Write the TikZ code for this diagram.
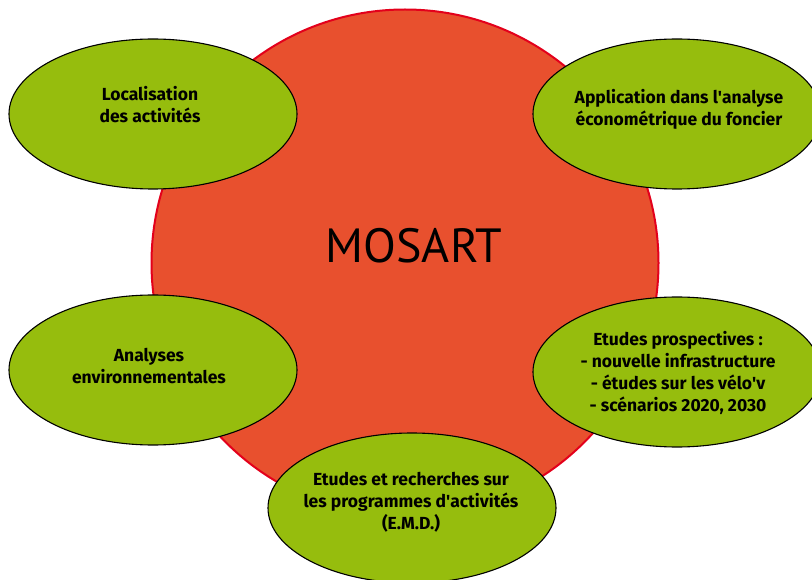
\documentclass[tikz,border=0pt]{standalone}
\usepackage{fontspec}
\setmainfont{Fira Sans}
\newfontfamily\titlefont{PT Sans}
\usetikzlibrary{shapes.geometric}
\definecolor{redfill}{HTML}{E8502E}
\definecolor{redline}{HTML}{E3001B}
\definecolor{greenfill}{HTML}{96BD0D}
\newcommand{\apos}{\textquotesingle}
\tikzset{
  bubble/.style={ellipse, draw=black, line width=1.1pt, fill=greenfill,
    minimum width=288pt, minimum height=150pt, inner sep=0pt},
  bubbletext/.style={align=center, font=\fontsize{17.5}{22}\selectfont\bfseries, inner sep=0pt},
}
\begin{document}
\begin{tikzpicture}[x=1pt,y=-1pt]
\useasboundingbox (0,0) rectangle (812,580);
\node[circle, draw=redline, line width=2pt, fill=redfill, minimum size=507pt, inner sep=0pt] (core) at (405,263) {};
\node[font=\titlefont\fontsize{48}{52}\selectfont, inner sep=0pt] (title) at (414,246) {MOSART};
\node[bubble] (e1) at (153,114) {};
\node[bubble] (e2) at (677,114) {};
\node[bubble] (e3) at (153,370) {};
\node[bubble] (e4) at (677,372) {};
\node[bubble] (e5) at (412,508) {};
\node[bubbletext] (t1) at (150,105) {Localisation\\des activités};
\node[bubbletext] (t2) at (679,109) {Application dans l\apos analyse\\économétrique du foncier};
\node[bubbletext] (t3) at (149,366) {Analyses\\environnementales};
\node[bubbletext] (t4) at (678,373) {Etudes prospectives :\\- nouvelle infrastructure\\- études sur les vélo\apos v\\- scénarios 2020, 2030};
\node[bubbletext] (t5) at (411,502) {Etudes et recherches sur\\les programmes d\apos activités\\(E.M.D.)};
\end{tikzpicture}
\end{document}
